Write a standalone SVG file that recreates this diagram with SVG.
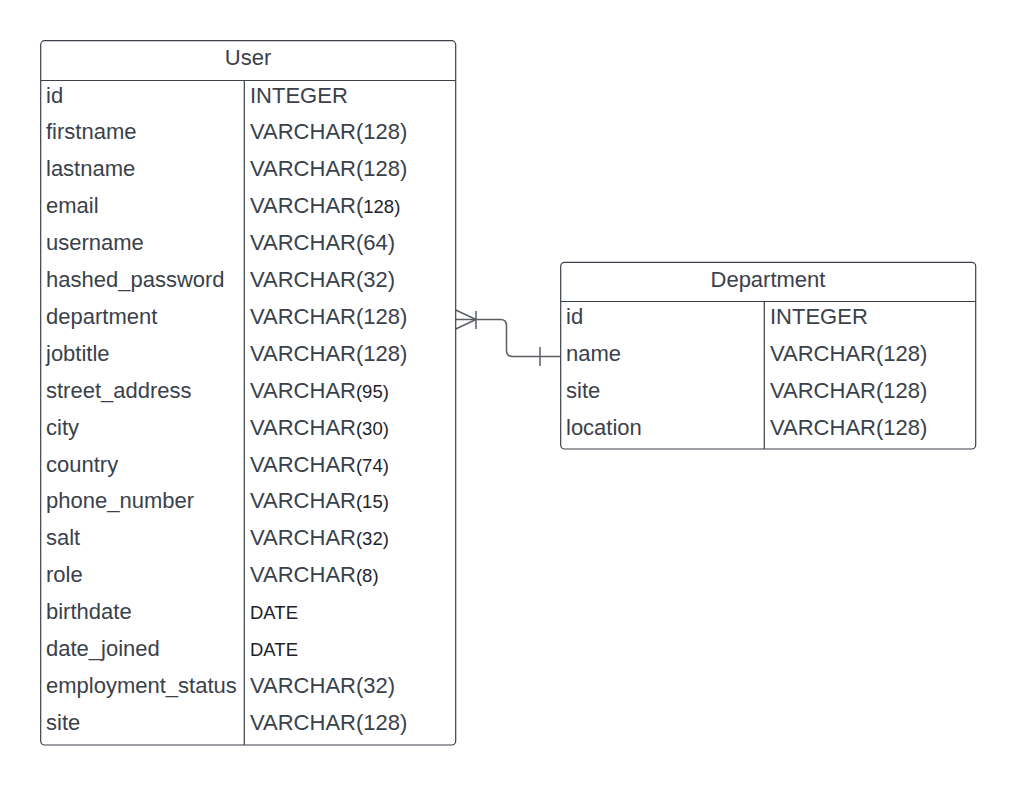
<svg xmlns="http://www.w3.org/2000/svg" width="1016" height="786" viewBox="0 0 1016 786">
<style>
.box{fill:#ffffff;stroke:#3a414a;stroke-width:1.2}
.ln{stroke:#3a414a;stroke-width:1.2;fill:none}
text{font-family:"Liberation Sans",Arial,sans-serif;font-size:22px;fill:#3a414a}
.h{text-anchor:middle}
.s{font-size:18.5px;fill:#1e2228}
.con{stroke:#5a5e63;stroke-width:1.5;fill:none}
</style>
<rect width="1016" height="786" fill="#ffffff"/>
<g id="connectors">
<path class="con" d="M455.7,319.5 H500.5 Q506.5,319.5 506.5,325.5 V350.5 Q506.5,356.5 512.5,356.5 H560.7"/>
<path class="con" d="M455.7,310 L476,319.5 L455.7,329 M476,311 V329"/>
<path class="con" d="M540,347 V366"/>
</g>
<g id="user">
<rect class="box" x="40.7" y="40.7" width="415" height="704.3" rx="4"/>
<line class="ln" x1="40.7" y1="80.5" x2="455.7" y2="80.5"/>
<line class="ln" x1="244.3" y1="80.5" x2="244.3" y2="745"/>
<text class="h" x="248" y="65">User</text>
<text x="46" y="102.5">id</text><text x="250" y="102.5">INTEGER</text>
<text x="46" y="139.4">firstname</text><text x="250" y="139.4">VARCHAR(128)</text>
<text x="46" y="176.3">lastname</text><text x="250" y="176.3">VARCHAR(128)</text>
<text x="46" y="213.2">email</text><text x="250" y="213.2">VARCHAR(<tspan class="s">128)</tspan></text>
<text x="46" y="250.1">username</text><text x="250" y="250.1">VARCHAR(64)</text>
<text x="46" y="287">hashed_password</text><text x="250" y="287">VARCHAR(32)</text>
<text x="46" y="323.9">department</text><text x="250" y="323.9">VARCHAR(128)</text>
<text x="46" y="360.8">jobtitle</text><text x="250" y="360.8">VARCHAR(128)</text>
<text x="46" y="397.7">street_address</text><text x="250" y="397.7">VARCHAR<tspan class="s">(95)</tspan></text>
<text x="46" y="434.6">city</text><text x="250" y="434.6">VARCHAR<tspan class="s">(30)</tspan></text>
<text x="46" y="471.5">country</text><text x="250" y="471.5">VARCHAR<tspan class="s">(74)</tspan></text>
<text x="46" y="508.4">phone_number</text><text x="250" y="508.4">VARCHAR<tspan class="s">(15)</tspan></text>
<text x="46" y="545.3">salt</text><text x="250" y="545.3">VARCHAR<tspan class="s">(32)</tspan></text>
<text x="46" y="582.2">role</text><text x="250" y="582.2">VARCHAR<tspan class="s">(8)</tspan></text>
<text x="46" y="619.1">birthdate</text><text class="s" x="250" y="619.1">DATE</text>
<text x="46" y="656">date_joined</text><text class="s" x="250" y="656">DATE</text>
<text x="46" y="692.9">employment_status</text><text x="250" y="692.9">VARCHAR(32)</text>
<text x="46" y="729.8">site</text><text x="250" y="729.8">VARCHAR(128)</text>
</g>
<g id="department">
<rect class="box" x="560.7" y="262.3" width="415" height="186.7" rx="4"/>
<line class="ln" x1="560.7" y1="301.5" x2="975.7" y2="301.5"/>
<line class="ln" x1="764.3" y1="301.5" x2="764.3" y2="449"/>
<text class="h" x="768" y="286.5">Department</text>
<text x="566" y="323.5">id</text><text x="770" y="323.5">INTEGER</text>
<text x="566" y="360.5">name</text><text x="770" y="360.5">VARCHAR(128)</text>
<text x="566" y="397.5">site</text><text x="770" y="397.5">VARCHAR(128)</text>
<text x="566" y="434.5">location</text><text x="770" y="434.5">VARCHAR(128)</text>
</g>
</svg>
